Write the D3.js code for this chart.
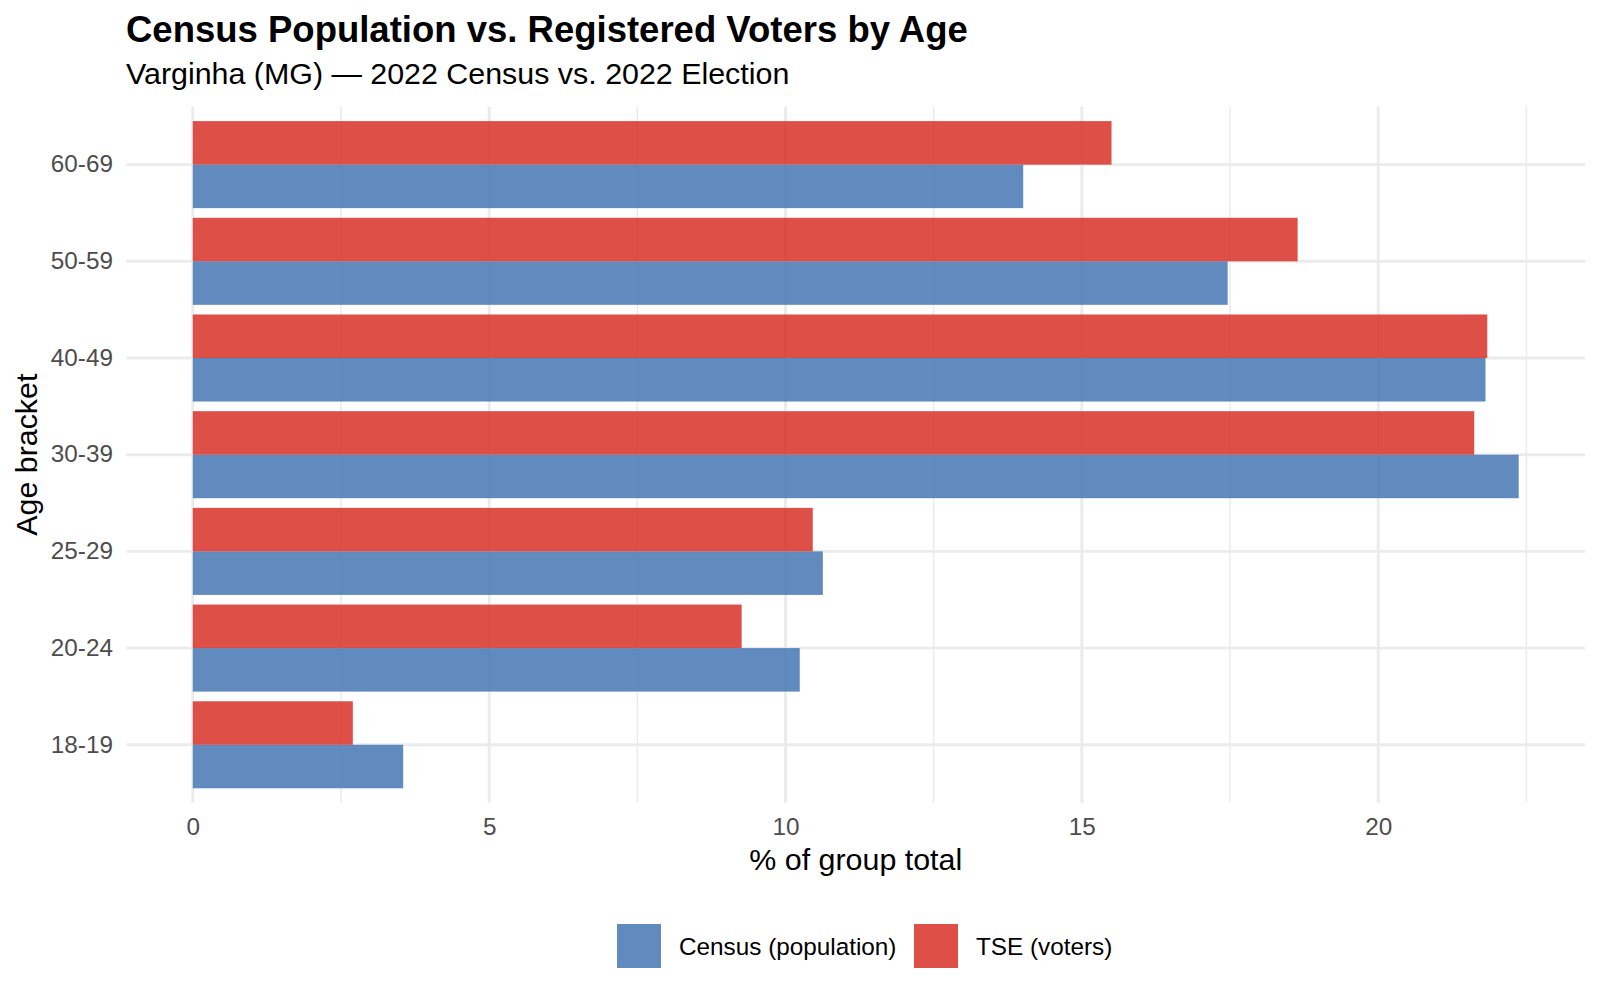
<!DOCTYPE html>
<html>
<head>
<meta charset="utf-8">
<script src="https://cdn.jsdelivr.net/npm/d3@7"></script>
<style>
  body { margin: 0; background: #fff; }
  text { font-family: "Liberation Sans", Arial, sans-serif; }
</style>
</head>
<body>
<div id="chart"></div>
<script>
// values (% of each group's total)
const ageBrackets = ["18-19", "20-24", "25-29", "30-39", "40-49", "50-59", "60-69"];
const censusPct = [3.55, 10.24, 10.63, 22.37, 21.81, 17.46, 14.01];
const tsePct = [2.70, 9.26, 10.46, 21.62, 21.84, 18.64, 15.50];
const seriesNames = ["Census (population)", "TSE (voters)"];
const seriesColors = ["#4575B4", "#D73027"];
const xTicks = [0, 5, 10, 15, 20];
const xMinorTicks = [2.5, 7.5, 12.5, 17.5, 22.5];

const width = 1600, height = 1000;
const panel = { left: 126.5, right: 1585, top: 106.6, bottom: 802.8 };

const rows = ageBrackets.map((age, i) => ({
  age,
  values: [
    { key: seriesNames[0], value: censusPct[i] },
    { key: seriesNames[1], value: tsePct[i] }
  ]
}));

const svg = d3.select("#chart").append("svg")
  .attr("width", width)
  .attr("height", height);

// x scale with ggplot-like 5% expansion
const maxVal = d3.max([...censusPct, ...tsePct]);
const pad = maxVal * 0.05;
const x = d3.scaleLinear()
  .domain([-pad, maxVal + pad])
  .range([panel.left, panel.right]);

// top-to-bottom: oldest first
const y = d3.scaleBand()
  .domain(ageBrackets.slice().reverse())
  .range([panel.top, panel.bottom])
  .paddingInner(0.1)
  .paddingOuter(0.15);

// within band: TSE on top, census below
const ySub = d3.scaleBand()
  .domain([seriesNames[1], seriesNames[0]])
  .range([0, y.bandwidth()]);

const color = d3.scaleOrdinal().domain(seriesNames).range(seriesColors);

// grid
const grid = svg.append("g");
grid.selectAll(".minor").data(xMinorTicks.filter(t => t <= x.domain()[1]))
  .enter().append("line")
  .attr("x1", d => x(d)).attr("x2", d => x(d))
  .attr("y1", panel.top).attr("y2", panel.bottom)
  .attr("stroke", "#ebebeb").attr("stroke-width", 1.5);
grid.selectAll(".major").data(xTicks)
  .enter().append("line")
  .attr("x1", d => x(d)).attr("x2", d => x(d))
  .attr("y1", panel.top).attr("y2", panel.bottom)
  .attr("stroke", "#ebebeb").attr("stroke-width", 2.9);
grid.selectAll(".hmajor").data(ageBrackets)
  .enter().append("line")
  .attr("x1", panel.left).attr("x2", panel.right)
  .attr("y1", d => y(d) + y.bandwidth() / 2)
  .attr("y2", d => y(d) + y.bandwidth() / 2)
  .attr("stroke", "#ebebeb").attr("stroke-width", 2.9);

// bars
const groups = svg.append("g").selectAll("g")
  .data(rows).enter().append("g")
  .attr("transform", d => `translate(0,${y(d.age)})`);

groups.selectAll("rect")
  .data(d => d.values).enter().append("rect")
  .attr("x", x(0))
  .attr("y", d => ySub(d.key))
  .attr("width", d => x(d.value) - x(0))
  .attr("height", ySub.bandwidth())
  .attr("fill", d => color(d.key))
  .attr("fill-opacity", 0.85);

// axes (labels only, theme_minimal style)
const xAxis = svg.append("g")
  .attr("transform", `translate(0,${panel.bottom})`)
  .call(d3.axisBottom(x).tickValues(xTicks).tickSize(0).tickPadding(15));
xAxis.select(".domain").remove();
xAxis.selectAll("text")
  .attr("font-size", 24.3)
  .attr("fill", "#4d4d4d")
  .attr("font-family", "'Liberation Sans', Arial, sans-serif");

const yAxis = svg.append("g")
  .attr("transform", `translate(${panel.left},0)`)
  .call(d3.axisLeft(y).tickSize(0).tickPadding(13.5));
yAxis.select(".domain").remove();
yAxis.selectAll("text")
  .attr("font-size", 24.3)
  .attr("fill", "#4d4d4d")
  .attr("font-family", "'Liberation Sans', Arial, sans-serif");

// titles
svg.append("text")
  .attr("x", 126).attr("y", 42)
  .attr("font-size", 36.5).attr("font-weight", "bold").attr("fill", "#000")
  .text("Census Population vs. Registered Voters by Age");

svg.append("text")
  .attr("x", 126).attr("y", 84)
  .attr("font-size", 30.4).attr("fill", "#000")
  .text("Varginha (MG) \u2014 2022 Census vs. 2022 Election");

svg.append("text")
  .attr("x", (panel.left + panel.right) / 2).attr("y", 870)
  .attr("text-anchor", "middle")
  .attr("font-size", 30.4).attr("fill", "#000")
  .text("% of group total");

svg.append("text")
  .attr("transform", `translate(37,${(panel.top + panel.bottom) / 2}) rotate(-90)`)
  .attr("text-anchor", "middle")
  .attr("font-size", 30.4).attr("fill", "#000")
  .text("Age bracket");

// legend
const legendItems = [
  { name: seriesNames[0], keyX: 617, textX: 679 },
  { name: seriesNames[1], keyX: 914, textX: 976 }
];
const keySize = 44, legendCy = 946;
const legend = svg.append("g");
legend.selectAll("rect").data(legendItems).enter().append("rect")
  .attr("x", d => d.keyX).attr("y", legendCy - keySize / 2)
  .attr("width", keySize).attr("height", keySize)
  .attr("fill", d => color(d.name)).attr("fill-opacity", 0.85);
legend.selectAll("text").data(legendItems).enter().append("text")
  .attr("x", d => d.textX).attr("y", legendCy)
  .attr("dy", "0.35em")
  .attr("font-size", 24.3).attr("fill", "#000")
  .text(d => d.name);
</script>
</body>
</html>
